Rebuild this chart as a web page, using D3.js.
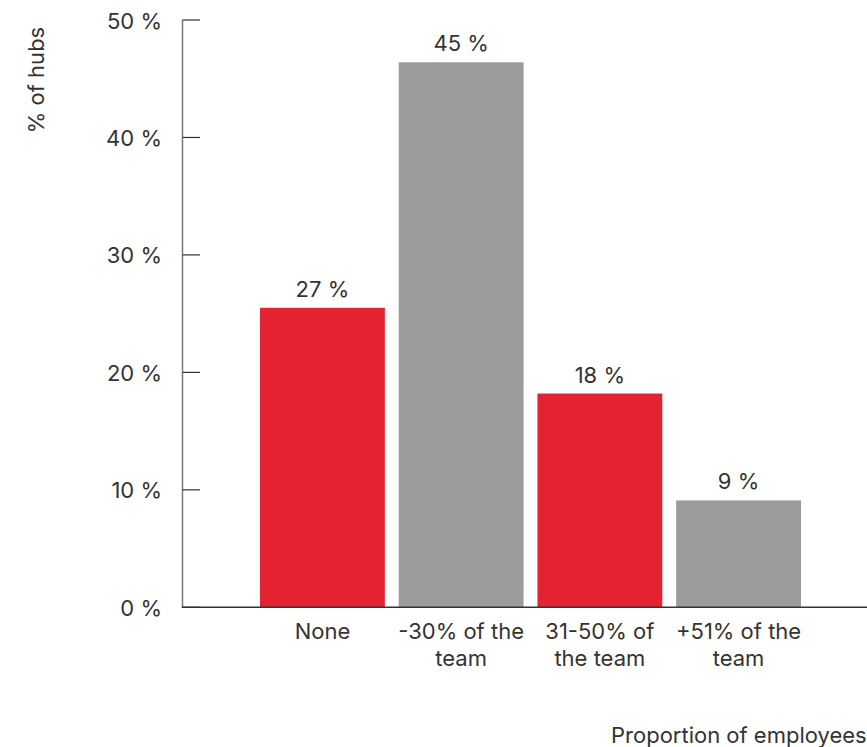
<!DOCTYPE html>
<html>
<head>
<meta charset="utf-8">
<script src="https://cdn.jsdelivr.net/npm/d3@7"></script>
<style>
  html, body { margin: 0; padding: 0; background: #fff; }
  svg { display: block; }
  text { font-family: Inter, "Open Sans", sans-serif; fill: #333; }
</style>
</head>
<body>
<svg id="chart" width="867" height="747"></svg>
<script>
const categories = ["None", "-30% of the team", "31-50% of the team", "+51% of the team"];
const categoryLines = [["None"], ["-30% of the", "team"], ["31-50% of", "the team"], ["+51% of the", "team"]];
const values = [25.5, 46.4, 18.2, 9.1];
const valueLabels = ["27 %", "45 %", "18 %", "9 %"];
const barColors = ["#e32232", "#9b9b9b", "#e32232", "#9b9b9b"];
const yTicks = [0, 10, 20, 30, 40, 50];

const svg = d3.select("#chart");
const W = 867, H = 747;
const FS = 22;

const y = d3.scaleLinear().domain([0, 50]).range([607.3, 20]);
const x = d3.scaleBand().domain(categories).range([260, 801]).paddingInner(0.1).paddingOuter(0);

const axisX = 182.5;

// y axis line
svg.append("line")
  .attr("x1", axisX).attr("x2", axisX)
  .attr("y1", y(50)).attr("y2", y(0))
  .attr("stroke", "#7a7a7a").attr("stroke-width", 1.5);

// y ticks
const yAxis = svg.append("g");
yTicks.forEach(t => {
  yAxis.append("line")
    .attr("x1", axisX).attr("x2", 200)
    .attr("y1", y(t)).attr("y2", y(t))
    .attr("stroke", "#333").attr("stroke-width", 1.2);
  yAxis.append("text")
    .attr("x", 162).attr("y", y(t) + 8.5)
    .attr("text-anchor", "end")
    .attr("font-size", FS)
    .text(t + " %");
});

// bars
svg.append("g").selectAll("rect")
  .data(values)
  .join("rect")
  .attr("x", (d, i) => x(categories[i]))
  .attr("width", x.bandwidth())
  .attr("y", d => y(d))
  .attr("height", d => y(0) - y(d))
  .attr("fill", (d, i) => barColors[i]);

// value labels
svg.append("g").selectAll("text")
  .data(values)
  .join("text")
  .attr("x", (d, i) => x(categories[i]) + x.bandwidth() / 2)
  .attr("y", d => y(d) - 11)
  .attr("text-anchor", "middle")
  .attr("font-size", FS)
  .text((d, i) => valueLabels[i]);

// baseline
svg.append("line")
  .attr("x1", axisX - 0.75).attr("x2", W)
  .attr("y1", y(0)).attr("y2", y(0))
  .attr("stroke", "#333").attr("stroke-width", 1.5);

// x category labels
const xl = svg.append("g");
categories.forEach((c, i) => {
  const t = xl.append("text")
    .attr("x", x(c) + x.bandwidth() / 2)
    .attr("y", 639)
    .attr("text-anchor", "middle")
    .attr("font-size", FS);
  categoryLines[i].forEach((ln, j) => {
    t.append("tspan")
      .attr("x", x(c) + x.bandwidth() / 2)
      .attr("dy", j === 0 ? 0 : 27)
      .text(ln);
  });
});

// y axis title
svg.append("text")
  .attr("transform", "translate(44,80) rotate(-90)")
  .attr("text-anchor", "middle")
  .attr("font-size", FS)
  .text("% of hubs");

// x axis title
svg.append("text")
  .attr("x", 611).attr("y", 742.5)
  .attr("font-size", FS)
  .text("Proportion of employees");
</script>
</body>
</html>
